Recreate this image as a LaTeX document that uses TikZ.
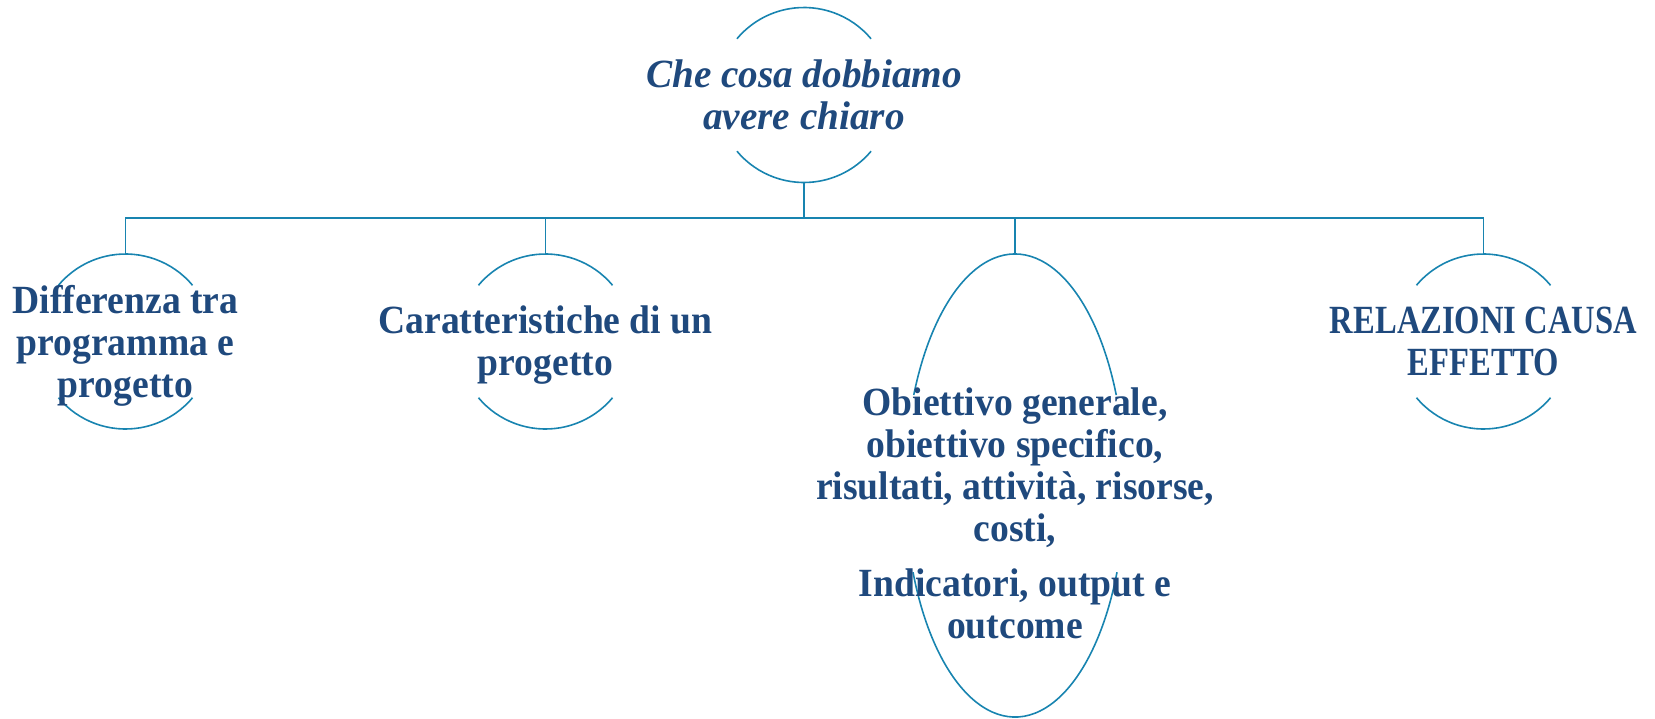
\documentclass[tikz,border=0pt]{standalone}
\usepackage{fontspec}
\setmainfont{Liberation Serif}[FakeStretch=0.94]
\newfontfamily\corsivo{Liberation Serif}[FakeStretch=0.98]
\newfontfamily\stretto{Liberation Serif}[FakeStretch=0.815]
\usetikzlibrary{shapes.geometric}
\definecolor{bluramo}{RGB}{24,132,176}
\definecolor{blutesto}{RGB}{31,73,125}
\begin{document}
\begin{tikzpicture}[x=1pt, y=1pt,
		ramo/.style={draw=bluramo, line width=1.6pt},
		cerchio/.style={circle, minimum size=175pt, inner sep=0pt, outer sep=0pt},
		voce/.style={text=blutesto, font=\bfseries\fontsize{40}{42}\selectfont, align=center, inner sep=0pt}]
	\useasboundingbox (0,0) rectangle (1655,-718);

	\node[cerchio] (chiaro) at (804,-95) {};
	\node[cerchio] (diff) at (125.5,-341.5) {};
	\node[cerchio] (caratt) at (545.5,-341.5) {};
	\node[ellipse, minimum width=220pt, minimum height=463pt, inner sep=0pt, outer sep=0pt] (obiett) at (1015,-485.5) {};
	\node[cerchio] (relaz) at (1483.5,-341.5) {};

	% archi sopra e sotto il testo
	\foreach \n in {chiaro,diff,caratt,relaz} {
		\draw[ramo] (\n.center) ++(40:87.5) arc[start angle=40, end angle=140, radius=87.5];
		\draw[ramo] (\n.center) ++(220:87.5) arc[start angle=220, end angle=320, radius=87.5];
	}
	\draw[ramo] (obiett.center) ++(23:110 and 231.5) arc[start angle=23, end angle=157, x radius=110, y radius=231.5];
	\draw[ramo] (obiett.center) ++(202:110 and 231.5) arc[start angle=202, end angle=338, x radius=110, y radius=231.5];

	\foreach \n in {diff,caratt,obiett,relaz}
		\draw[ramo] (chiaro.south) -- ++(0,-35.5) -| (\n.north);

	\node[voce, font=\corsivo\bfseries\itshape\fontsize{40}{42}\selectfont] (chiaro-t) at (chiaro) {Che cosa dobbiamo\\avere chiaro};
	\node[voce] (diff-t) at ([yshift=-4pt]diff.center) {Differenza tra\\programma e\\progetto};
	\node[voce] (caratt-t) at ([yshift=-4pt]caratt.center) {Caratteristiche di un\\progetto};
	\node[voce] (obiett-t) at ([yshift=-28pt]obiett.center) {Obiettivo generale,\\obiettivo specifico,\\risultati, attività, risorse,\\costi,\\[13pt]Indicatori, output e\\outcome};
	\node[voce, font=\stretto\bfseries\fontsize{40}{42}\selectfont] (relaz-t) at (relaz) {RELAZIONI CAUSA\\EFFETTO};
\end{tikzpicture}
\end{document}
